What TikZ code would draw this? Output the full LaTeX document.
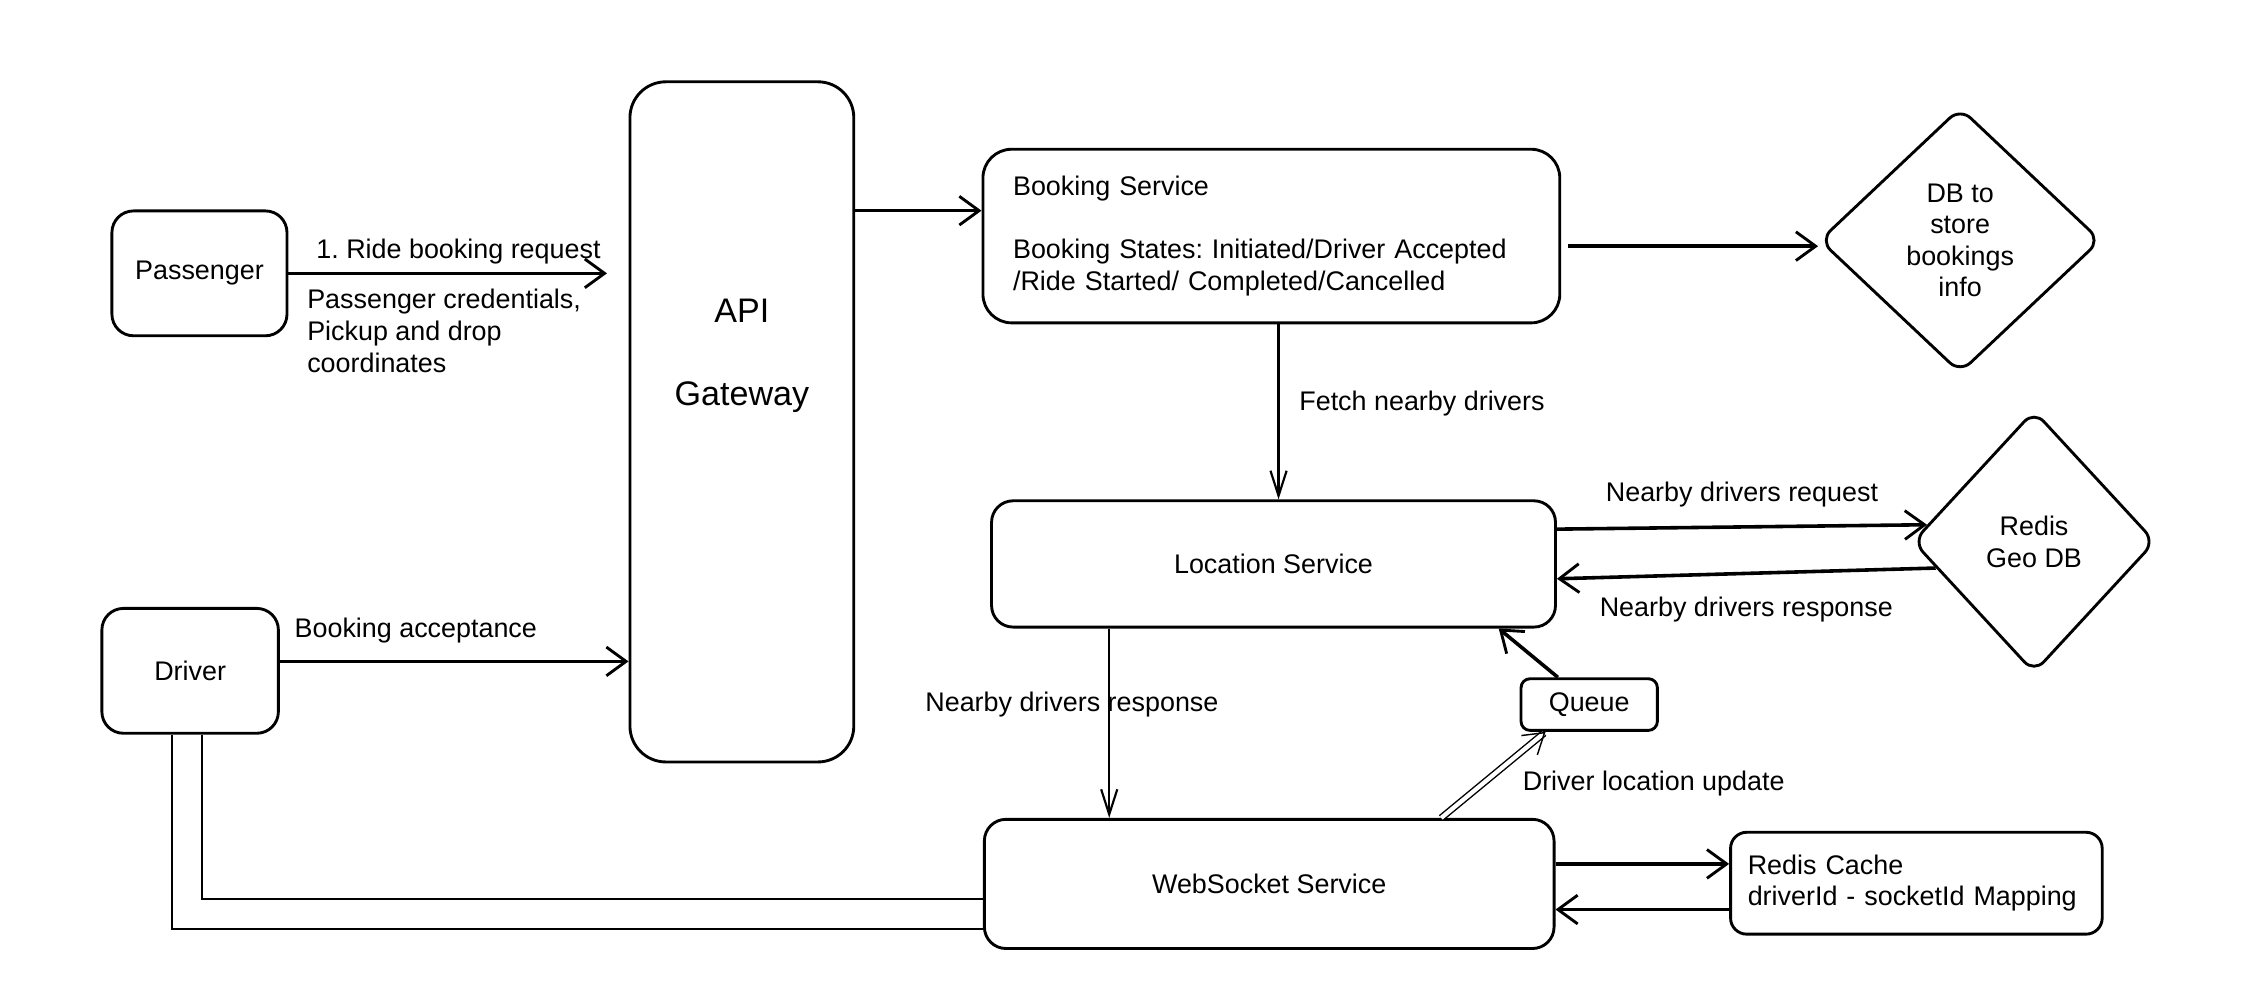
\documentclass[tikz,border=0pt]{standalone}
\usepackage{fontspec}
\setmainfont{Liberation Sans}
\usetikzlibrary{positioning,shapes.geometric,arrows.meta}
\frenchspacing

\tikzset{
  box/.style={draw, line width=1.6pt, rounded corners=12pt, align=center, font=\fontsize{15}{17.6}\selectfont},
  store/.style={diamond, draw, line width=1.6pt, rounded corners=8pt, align=center, inner sep=0pt, font=\fontsize{15}{17.6}\selectfont},
  flow/.style={line width=2pt, -{Straight Barb[length=11pt,width=16pt,line width=1.6pt]}},
  thinflow/.style={line width=1.2pt, -{Straight Barb[length=14pt,width=9pt,line width=1.2pt]}},
  dflow/.style={double, line width=0.8pt, double distance=2.4pt, -{Straight Barb[length=11pt,width=14pt]}},
  link/.style={line width=1.3pt},
  txt/.style={font=\fontsize{15}{17.6}\selectfont, align=left, inner sep=4pt}
}

\begin{document}
\begin{tikzpicture}[x=0.8pt, y=-0.8pt]
      \useasboundingbox (0, 0) rectangle (1568, 695.5);

      \node[box, minimum width=97.6pt, minimum height=69.6pt] (passenger) at (139, 190.5) {Passenger};
      \node[box, minimum width=98.4pt, minimum height=69.6pt] (driver) at (132.5, 467.5) {Driver};
      \node[box, rounded corners=20pt, minimum width=124.8pt, minimum height=379.2pt] (api) at (517, 294) {};
      \node[font=\fontsize{19}{23}\selectfont, align=center] (apitext) at ([yshift=36.8pt]api.center) {API\\[23pt]Gateway};
      \node[box, rounded corners=16pt, align=left, text width=288pt, inner xsep=16.8pt, minimum height=96.8pt] (booking) at (886, 164.5)
        {Booking Service\\[17.6pt]Booking States: Initiated/Driver Accepted\\/Ride Started/ Completed/Cancelled};
      \node[store, minimum width=156.8pt, minimum height=148pt] (db) at (1366, 167.5) {DB to\\store\\bookings\\info};
      \node[box, minimum width=314.4pt, minimum height=70.4pt] (location) at (887.5, 393) {Location Service};
      \node[store, minimum width=135.2pt, minimum height=146.4pt] (redis) at (1417.5, 377.5) {Redis\\Geo DB};
      \node[box, rounded corners=5pt, minimum width=76pt, minimum height=28.8pt] (queue) at (1107.5, 491) {Queue};
      \node[box, minimum width=317.6pt, minimum height=72pt] (websocket) at (884.5, 616) {WebSocket Service};
      \node[box, rounded corners=9pt, align=left, text width=188pt, inner xsep=9.6pt, minimum height=56.8pt] (cache) at (1335.5, 615.5)
        {Redis Cache\\driverId - socketId Mapping};

      \draw[flow, shorten >=12pt] (passenger.east) -- (passenger.east -| api.west)
        node[txt, midway, above] {1. Ride booking request}
        node[txt, midway, below, inner sep=8pt, xshift=-8pt] {Passenger credentials,\\Pickup and drop\\coordinates};
      \draw[flow] (driver.6) -- (driver.6 -| api.west)
        node[txt, pos=0.39, above, inner sep=9pt] {Booking acceptance};
      \draw[flow] (booking.175 -| api.east) -- (booking.175);
      \draw[flow, shorten <=4pt] (booking.-2) -- (booking.-2 -| db.west);
      \draw[thinflow] ([xshift=4pt]booking.south) -- ([xshift=4pt]booking.south |- location.north)
        node[txt, pos=0.45, right, xshift=7pt] {Fetch nearby drivers};
      \draw[flow] (location.7) -- (redis.171)
        node[txt, midway, above, inner sep=10pt] {Nearby drivers request};
      \draw[flow] (redis.195) -- (location.-3)
        node[txt, midway, below, inner sep=12pt] {Nearby drivers response};

      \coordinate (lsdown) at ([xshift=-91.6pt]location.south);
      \draw[thinflow] (lsdown) -- (lsdown |- websocket.north)
        node[txt, pos=0.4, xshift=-20.8pt] {Nearby drivers response};
      \draw[flow] (queue.139) -- (location.-16);
      \draw[dflow] (websocket.21) -- (queue.212)
        node[txt, midway, anchor=west, xshift=12pt, yshift=-5pt] {Driver location update};
      \draw[flow] (websocket.4) -- (websocket.4 -| cache.west);
      \draw[flow] (cache.188) -- (cache.188 -| websocket.east);

      \draw[link] ([xshift=6.8pt]driver.south) |- (websocket.183);
      \draw[link] ([xshift=-10pt]driver.south) |- (websocket.189);
    \end{tikzpicture}
\end{document}
